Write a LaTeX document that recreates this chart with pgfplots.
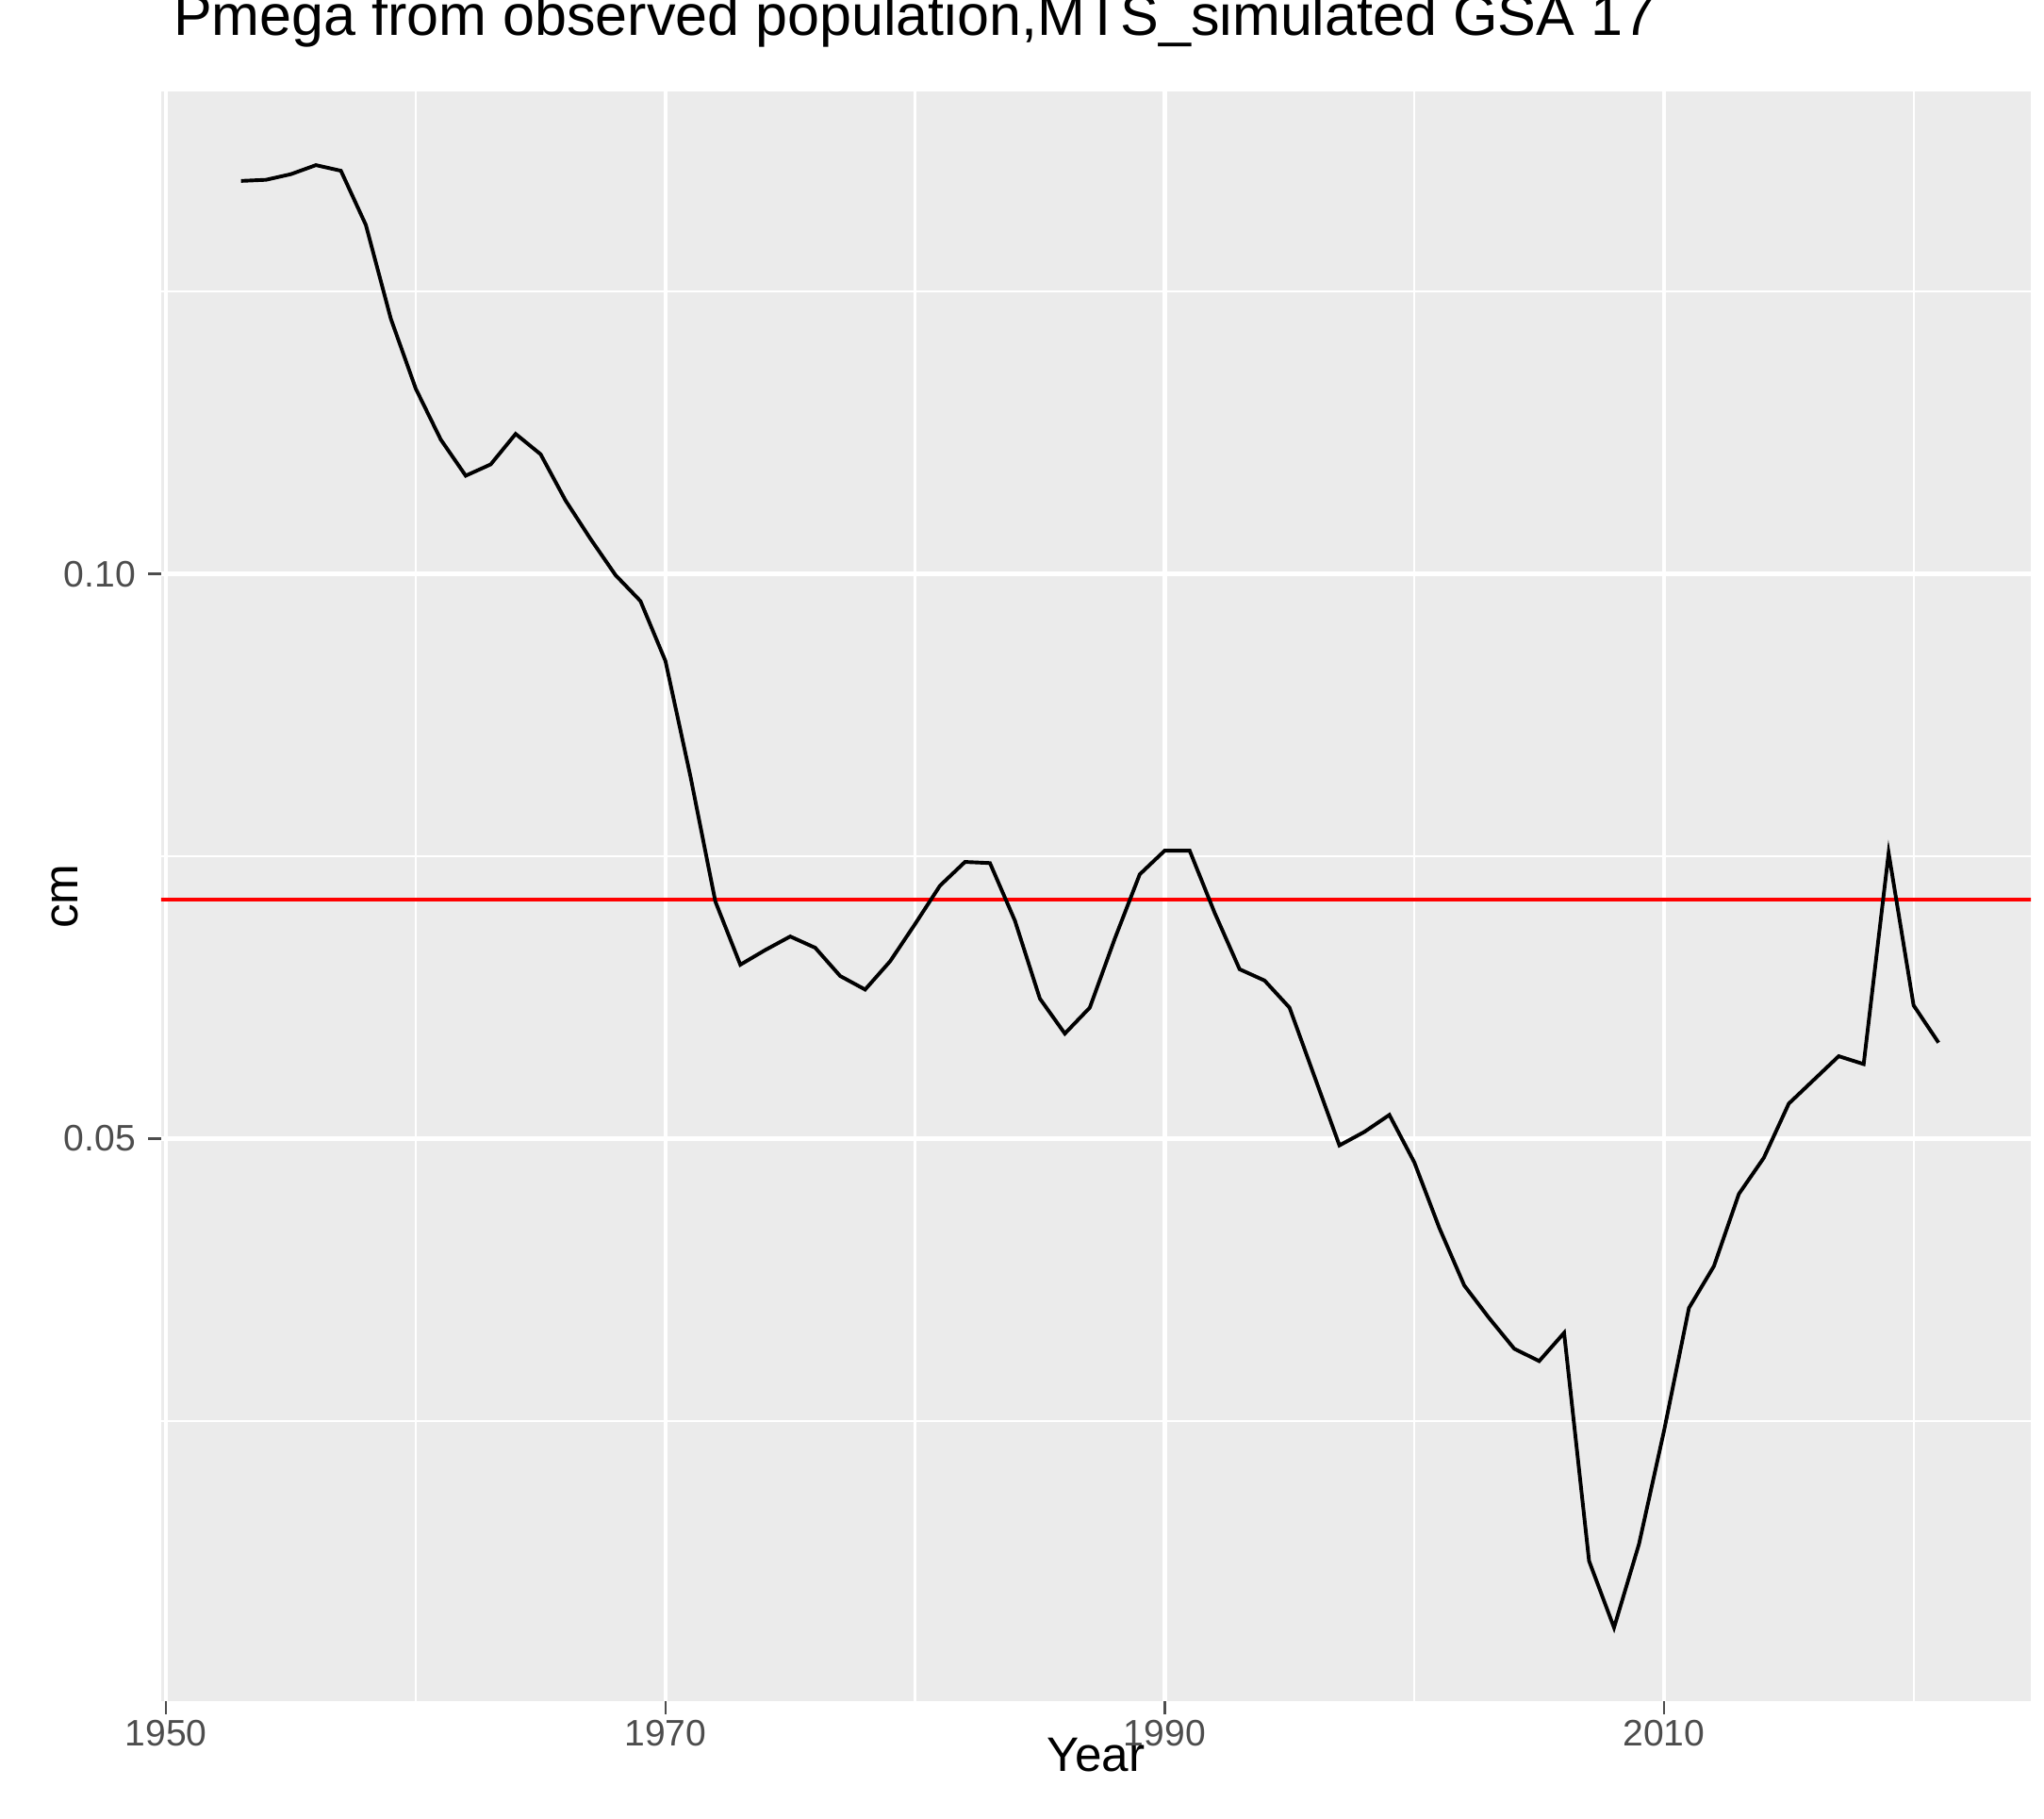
\documentclass[border=0pt]{standalone}
\usepackage{pgfplots}
\pgfplotsset{compat=1.18}
\usepackage{fontspec}
\setmainfont{Liberation Sans}
\definecolor{panel}{RGB}{235,235,235}
\definecolor{tickc}{RGB}{77,77,77}
\begin{document}
\begin{tikzpicture}
\path[use as bounding box] (0,0) rectangle (15.6,13.88);
\begin{axis}[
  at={(1.23cm,0.90cm)}, anchor=south west,
  scale only axis, width=14.27cm, height=12.28cm,
  xmin=1949.8, xmax=2024.7, ymin=0.0002, ymax=0.1427,
  axis background/.style={fill=panel},
  axis line style={draw=none},
  xtick={1950,1970,1990,2010}, minor xtick={1960,1980,2000,2020},
  ytick={0.05,0.10}, minor ytick={0.025,0.075,0.125},
  yticklabels={0.05,0.10},
  xticklabel style={/pgf/number format/1000 sep={}, yshift=0.08cm},
  yticklabel style={xshift=0.03cm},
  /pgf/number format/assume math mode=true,
  ticklabel style={font=\fontsize{8}{9}\selectfont, text=tickc},
  tick style={draw=tickc, line width=0.5pt},
  major tick length=0.1cm, minor tick length=0pt,
  tick align=outside, xtick pos=bottom, ytick pos=left,
  grid=both,
  major grid style={white, line width=0.9pt},
  minor grid style={white, line width=0.45pt},
  xlabel={Year}, ylabel={cm},
  label style={font=\fontsize{10.5}{12}\selectfont},
  xlabel style={yshift=0.3cm},
  ylabel style={yshift=-0.35cm},
  title={Pmega from observed population,MTS\_simulated GSA 17},
  title style={font=\fontsize{12.5}{14}\selectfont, anchor=base west, at={(0,1)}, xshift=-0.03cm, yshift=0.22cm},
]
\addplot[red, line width=0.8pt, forget plot] coordinates {(1940,0.0712) (2030,0.0712)};
\addplot[black, line width=0.8pt] coordinates {
(1953,0.1348)(1954,0.1349)(1955,0.1354)(1956,0.1362)(1957,0.1357)(1958,0.1309)(1959,0.1226)(1960,0.1164)
(1961,0.1119)(1962,0.1087)(1963,0.1097)(1964,0.1124)(1965,0.1106)(1966,0.1065)(1967,0.1031)(1968,0.0999)
(1969,0.0976)(1970,0.0923)(1971,0.0821)(1972,0.0710)(1973,0.0654)(1974,0.0667)(1975,0.0679)(1976,0.0669)
(1977,0.0644)(1978,0.0632)(1979,0.0657)(1980,0.0690)(1981,0.0724)(1982,0.0745)(1983,0.0744)(1984,0.0693)
(1985,0.0624)(1986,0.0593)(1987,0.0616)(1988,0.0677)(1989,0.0734)(1990,0.0755)(1991,0.0755)(1992,0.0700)
(1993,0.0650)(1994,0.0640)(1995,0.0616)(1996,0.0555)(1997,0.0494)(1998,0.0506)(1999,0.0521)(2000,0.0479)
(2001,0.0421)(2002,0.0370)(2003,0.0341)(2004,0.0314)(2005,0.0303)(2006,0.0328)(2007,0.0126)(2008,0.0067)
(2009,0.0141)(2010,0.0241)(2011,0.0350)(2012,0.0387)(2013,0.0451)(2014,0.0483)(2015,0.0531)(2016,0.0552)
(2017,0.0573)(2018,0.0566)(2019,0.0753)(2020,0.0618)(2021,0.0585)};
\end{axis}
\end{tikzpicture}
\end{document}
